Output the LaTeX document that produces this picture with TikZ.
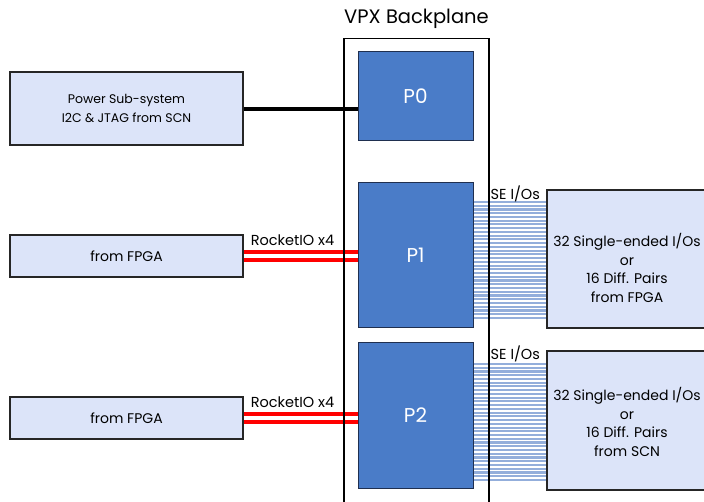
\documentclass[tikz,border=0pt]{standalone}
\usepackage{fontspec}
\setmainfont{Poppins}
\usetikzlibrary{calc}

\definecolor{portblue}{HTML}{4A7CC8}
\definecolor{portedge}{HTML}{1F2F4F}
\definecolor{boxfill}{HTML}{DCE4F9}
\definecolor{busblue}{HTML}{93AEDB}

\tikzset{
  port/.style={draw=portedge, line width=1pt, fill=portblue, text=white,
    font=\fontsize{20}{24}\selectfont, minimum width=115pt, inner sep=0pt},
  sidebox/.style={draw=black!85, line width=1.1pt, fill=boxfill,
    font=\fontsize{12.5}{19}\selectfont, align=center, minimum width=233pt, inner sep=0pt},
  iobox/.style={draw=black!85, line width=1.1pt, fill=boxfill,
    minimum width=166pt, inner sep=0pt},
  iotext/.style={font=\fontsize{14}{18.4}\selectfont, align=center, inner sep=0pt},
  busline/.style={draw=busblue, line width=2.1pt},
  rocket/.style={draw=red, line width=3.2pt},
  ctrl/.style={draw=black, line width=4pt},
  lbl/.style={font=\fontsize{14.5}{16}\selectfont, inner sep=0pt},
}

\begin{document}
\begin{tikzpicture}[x=1pt, y=-1pt]
  \clip (0,0) rectangle (704,502);
  \fill[white] (0,0) rectangle (704,502);

  % connector blocks of the backplane
  \node[port, minimum height=89pt]  (P0) at (415.5,96.5)  {P0};
  \node[port, minimum height=145pt] (P1) at (415.5,255.5) {P1};
  \node[port, minimum height=145pt] (P2) at (415.5,415.5) {P2};

  % sources on the left
  \node[sidebox, minimum height=73pt] (pwr) at (126.5,108.5)
    {Power Sub-system\\I2C \& JTAG from SCN};
  \node[sidebox, minimum height=42pt, font=\fontsize{14}{16}\selectfont] (F1) at (126.5,256) {from FPGA};
  \node[sidebox, minimum height=42pt, font=\fontsize{14}{16}\selectfont] (F2) at (126.5,418) {from FPGA};

  % I/O blocks on the right
  \node[iobox, minimum height=138pt] (R1) at (630,259) {};
  \node[iobox, minimum height=139pt] (R2) at (630,420.5) {};
  \node[iotext] (R1t) at (627,268)
    {32 Single-ended I/Os\\or\\16 Diff. Pairs\\from FPGA};
  \node[iotext] (R2t) at (627,422)
    {32 Single-ended I/Os\\or\\16 Diff. Pairs\\from SCN};

  % control link to P0
  \draw[ctrl] (pwr.east |- 0,109) -- (P0.west |- 0,109);

  % RocketIO pairs
  \foreach \f/\p in {F1/P1, F2/P2} {
    \draw[rocket] ([yshift=4pt]\f.east) -- ([yshift=4pt]\f.east -| \p.west);
    \draw[rocket] ([yshift=-4pt]\f.east) -- ([yshift=-4pt]\f.east -| \p.west);
  }
  \node[lbl, anchor=south west] (rio1) at ($(F1.east)+(7,-10)$) {RocketIO x4};
  \node[lbl, anchor=south west] (rio2) at ($(F2.east)+(7,-10)$) {RocketIO x4};

  % single-ended buses
  \foreach \i in {0,...,31} {
    \pgfmathsetmacro\ya{202+\i*3.74}
    \pgfmathsetmacro\yb{364+\i*3.74}
    \draw[busline] (P1.east |- 0,\ya) -- (R1.west |- 0,\ya);
    \draw[busline] (P2.east |- 0,\yb) -- (R2.west |- 0,\yb);
  }
  \node[lbl, anchor=base west] (se1) at ($(P1.north east)+(17,17)$) {SE I/Os};
  \node[lbl, anchor=base west] (se2) at ($(P2.north east)+(17,17)$) {SE I/Os};

  % backplane outline and title
  \node[draw, line width=1.2pt, minimum width=145pt, minimum height=480pt,
        anchor=north, inner sep=0pt] (vpx) at (416.5,38) {};
  \node[font=\fontsize{19.5}{22}\selectfont, inner sep=0pt] (title) at (416.5,19) {VPX Backplane};
\end{tikzpicture}
\end{document}
